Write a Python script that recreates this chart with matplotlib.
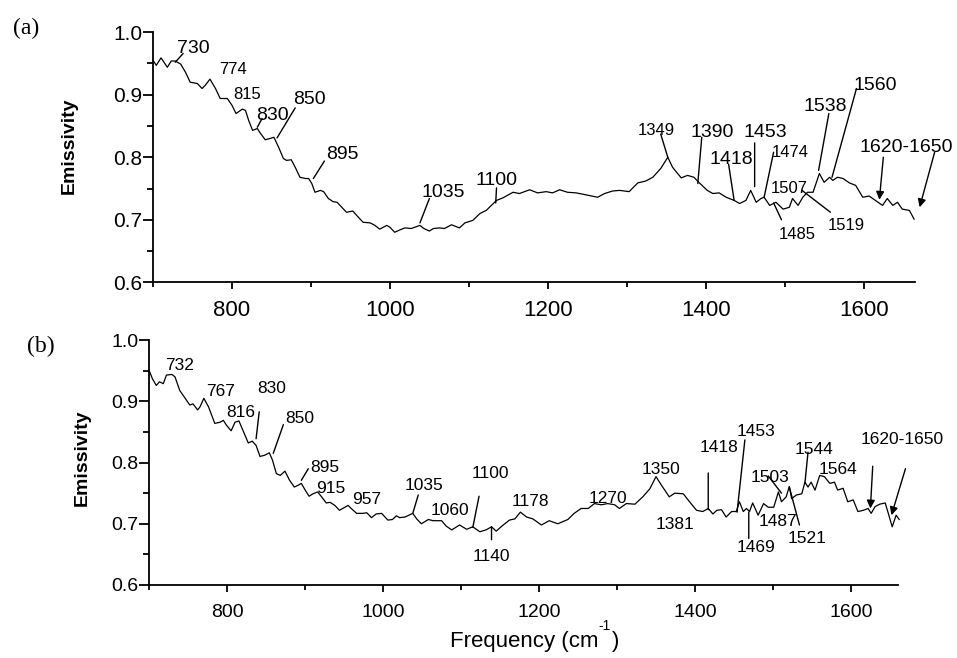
import matplotlib
matplotlib.use('Agg')
import matplotlib.pyplot as plt
from matplotlib.ticker import MultipleLocator, FormatStrFormatter

plt.rcParams['font.family'] = ['Liberation Sans', 'DejaVu Sans']

# spectrum (a)
freq_a = [700, 704, 710, 718, 723, 728, 735, 741, 747, 756, 762, 766, 772, 779, 785, 794,
          800, 805, 813, 817, 821, 826, 832, 835, 842, 848, 853, 859, 865, 869, 875, 880,
          886, 893, 897, 901, 905, 912, 916, 922, 928, 933, 939, 945, 953, 960, 966, 975,
          981, 987, 996, 1000, 1006, 1013, 1019, 1027, 1038, 1043, 1050, 1055, 1063, 1069,
          1078, 1088, 1095, 1105, 1114, 1122, 1131, 1135, 1143, 1156, 1164, 1177, 1187, 1198,
          1206, 1215, 1225, 1236, 1248, 1263, 1272, 1282, 1291, 1303, 1314, 1324, 1333, 1343,
          1352, 1358, 1369, 1377, 1385, 1392, 1402, 1409, 1417, 1426, 1436, 1443, 1451, 1457,
          1464, 1470, 1474, 1481, 1489, 1498, 1506, 1510, 1517, 1523, 1529, 1536, 1544, 1550,
          1557, 1561, 1567, 1574, 1582, 1590, 1599, 1607, 1615, 1624, 1630, 1637, 1643, 1649,
          1658, 1664]
emis_a = [.955, .947, .959, .944, .954, .954, .949, .936, .920, .918, .910, .915, .925, .910,
          .894, .894, .883, .870, .877, .875, .859, .843, .846, .840, .828, .830, .832, .816,
          .798, .795, .796, .784, .768, .766, .766, .758, .744, .747, .745, .734, .729, .728,
          .720, .712, .714, .704, .696, .695, .691, .685, .691, .688, .680, .684, .687, .686,
          .691, .686, .682, .686, .687, .686, .692, .687, .695, .699, .710, .715, .726, .731,
          .735, .744, .742, .748, .743, .745, .743, .748, .744, .743, .740, .736, .742, .746,
          .747, .745, .759, .762, .768, .782, .800, .784, .767, .771, .768, .759, .747, .742,
          .743, .736, .731, .726, .731, .747, .728, .734, .736, .723, .728, .717, .720, .734,
          .723, .736, .744, .744, .774, .760, .768, .763, .768, .766, .759, .755, .736, .738,
          .731, .723, .734, .723, .728, .717, .715, .701]

# spectrum (b)
freq_b = [700, 704, 709, 713, 718, 722, 729, 733, 739, 746, 752, 756, 762, 765, 770, 776,
          784, 791, 795, 799, 805, 810, 815, 821, 827, 832, 837, 842, 848, 854, 858, 863,
          868, 874, 880, 886, 891, 895, 900, 905, 910, 916, 921, 927, 932, 938, 944, 951,
          955, 959, 966, 974, 979, 985, 991, 998, 1006, 1012, 1017, 1021, 1028, 1038, 1043,
          1049, 1058, 1064, 1075, 1081, 1088, 1098, 1107, 1115, 1124, 1132, 1139, 1145, 1154,
          1162, 1169, 1176, 1184, 1192, 1203, 1213, 1224, 1237, 1245, 1254, 1263, 1271, 1280,
          1288, 1297, 1303, 1312, 1323, 1333, 1342, 1350, 1357, 1367, 1374, 1385, 1393, 1402,
          1410, 1417, 1423, 1428, 1434, 1440, 1447, 1453, 1457, 1462, 1466, 1470, 1474, 1481,
          1488, 1494, 1501, 1507, 1511, 1517, 1521, 1524, 1530, 1537, 1541, 1545, 1549, 1554,
          1560, 1566, 1573, 1579, 1583, 1590, 1596, 1603, 1609, 1616, 1622, 1626, 1631, 1637,
          1644, 1648, 1653, 1658, 1662]
emis_b = [.950, .937, .926, .932, .929, .943, .944, .940, .918, .905, .894, .896, .886, .891,
          .905, .891, .864, .866, .869, .861, .852, .866, .868, .850, .832, .835, .828, .810,
          .812, .816, .804, .782, .779, .786, .771, .760, .763, .766, .755, .745, .749, .752,
          .744, .734, .735, .730, .722, .727, .730, .725, .717, .717, .718, .710, .716, .717,
          .706, .707, .713, .710, .711, .717, .708, .700, .707, .705, .705, .696, .690, .698,
          .691, .695, .687, .690, .695, .688, .698, .706, .708, .719, .711, .708, .698, .705,
          .700, .707, .717, .725, .725, .733, .731, .733, .731, .725, .733, .732, .744, .757,
          .777, .763, .744, .750, .749, .736, .722, .720, .725, .716, .722, .723, .711, .720,
          .720, .736, .720, .725, .720, .734, .714, .733, .727, .727, .752, .736, .744, .761,
          .741, .747, .749, .768, .760, .768, .755, .779, .777, .766, .768, .755, .758, .736,
          .739, .720, .722, .725, .717, .728, .732, .734, .717, .695, .714, .707]

# peak labels: (text, text x, text y, font size)
labels_a = [('730', 730, .966, 14), ('774', 783, .933, 12), ('815', 801, .893, 12),
            ('830', 830, .859, 14), ('850', 877, .885, 14), ('895', 919, .798, 14),
            ('1035', 1040, .736, 14), ('1100', 1109, .756, 14), ('1349', 1314, .835, 12),
            ('1390', 1381, .832, 14), ('1418', 1405, .789, 14), ('1453', 1448, .833, 14),
            ('1474', 1484, .801, 12), ('1507', 1482, .743, 12), ('1485', 1492, .669, 12),
            ('1519', 1555, .683, 12), ('1538', 1524, .874, 14), ('1560', 1587, .907, 14),
            ('1620-1650', 1595, .808, 14)]
# leader lines: (point on curve, line end)
leaders_a = [((728, .952), (738, .966)), ((832, .848), (838, .862)),
             ((857, .831), (880, .879)), ((903, .766), (917, .794)),
             ((1038, .695), (1050, .734)), ((1134, .727), (1135, .751)),
             ((1352, .800), (1343, .837)), ((1390, .758), (1395, .832)),
             ((1436, .731), (1429, .789)), ((1462, .753), (1462, .823)),
             ((1474, .736), (1486, .808)), ((1486, .727), (1496, .700)),
             ((1522, .747), (1558, .712)), ((1543, .779), (1556, .870)),
             ((1560, .768), (1591, .910))]
arrows_a = [((1620, .732), (1625, .800)), ((1671, .720), (1690, .808))]

labels_b = [('732', 720, .952), ('767', 773, .908), ('816', 799, .874), ('830', 838, .914),
            ('850', 875, .865), ('895', 906, .785), ('915', 914, .750), ('957', 960, .733),
            ('1035', 1028, .755), ('1060', 1061, .715), ('1100', 1113, .775),
            ('1140', 1115, .639), ('1178', 1165, .729), ('1270', 1263, .734),
            ('1350', 1331, .782), ('1381', 1350, .692), ('1418', 1406, .817),
            ('1453', 1454, .843), ('1469', 1453, .654), ('1487', 1481, .696),
            ('1503', 1471, .768), ('1521', 1519, .669), ('1544', 1528, .814),
            ('1564', 1559, .781), ('1620-1650', 1613, .831)]
leaders_b = [((837, .839), (841, .883)), ((859, .815), (872, .862)),
             ((895, .771), (904, .790)), ((1038, .717), (1045, .747)),
             ((1115, .694), (1123, .745)), ((1139, .695), (1139, .674)),
             ((1417, .723), (1417, .783)), ((1454, .719), (1464, .837)),
             ((1469, .719), (1469, .676)), ((1511, .750), (1494, .778)),
             ((1521, .760), (1534, .698)), ((1541, .766), (1545, .817))]
arrows_b = [((1625, .725), (1628, .794)), ((1652, .714), (1670, .790))]

fig = plt.figure(figsize=(9.57, 6.58), dpi=100)
ax_a = fig.add_axes([0.160, 0.571, 0.796, 0.380])
ax_b = fig.add_axes([0.156, 0.111, 0.782, 0.372])


def style_axes(ax, xlim, xsize, ysize, xpad):
    ax.set_xlim(*xlim)
    ax.set_ylim(0.6, 1.0)
    for side in ['top', 'right']:
        ax.spines[side].set_visible(False)
    for side in ['left', 'bottom']:
        ax.spines[side].set_linewidth(1.3)
    ax.xaxis.set_major_locator(MultipleLocator(200))
    ax.xaxis.set_minor_locator(MultipleLocator(100))
    ax.yaxis.set_major_locator(MultipleLocator(0.1))
    ax.yaxis.set_minor_locator(MultipleLocator(0.05))
    ax.yaxis.set_major_formatter(FormatStrFormatter('%.1f'))
    ax.tick_params(axis='x', which='major', length=5, width=1.3, labelsize=xsize, pad=xpad)
    ax.tick_params(axis='x', which='minor', length=3.5, width=1.3)
    ax.tick_params(axis='y', which='major', length=7, width=1.3, labelsize=ysize, pad=1)
    ax.tick_params(axis='y', which='minor', length=4.5, width=1.3)


def draw_marks(ax, leaders, arrows):
    for xy, end in leaders:
        ax.annotate('', xy=xy, xytext=end, annotation_clip=False,
                    arrowprops=dict(arrowstyle='-', color='black', lw=1.0,
                                    shrinkA=0, shrinkB=0))
    for xy, end in arrows:
        ax.annotate('', xy=xy, xytext=end, annotation_clip=False,
                    arrowprops=dict(arrowstyle='-|>', color='black', lw=1.0,
                                    mutation_scale=12, shrinkA=0, shrinkB=0))


# panel (a)
ax_a.plot(freq_a, emis_a, color='black', lw=0.9, clip_on=False)
style_axes(ax_a, (700, 1665), 16, 15, 8)
for txt, x, y, size in labels_a:
    ax_a.text(x, y, txt, fontsize=size, ha='left', va='baseline')
draw_marks(ax_a, leaders_a, arrows_a)

# panel (b)
ax_b.plot(freq_b, emis_b, color='black', lw=0.9, clip_on=False)
style_axes(ax_b, (700, 1660), 14, 14, 9)
for txt, x, y in labels_b:
    ax_b.text(x, y, txt, fontsize=12.5, ha='left', va='baseline')
draw_marks(ax_b, leaders_b, arrows_b)

fig.text(0.072, 0.778, 'Emissivity', rotation=90, fontsize=14, fontweight='bold',
         ha='center', va='center')
fig.text(0.086, 0.305, 'Emissivity', rotation=90, fontsize=14, fontweight='bold',
         ha='center', va='center')
# x label with the raised "-1" tucked in before the closing bracket
fig.text(0.625, 0.017, 'Frequency (cm', fontsize=16, ha='right', va='baseline')
fig.text(0.625, 0.042, '-1', fontsize=10, ha='left', va='baseline')
fig.text(0.639, 0.017, ')', fontsize=16, ha='left', va='baseline')
fig.text(0.027, 0.956, '(a)', fontsize=17, family='Liberation Serif', ha='center', va='center')
fig.text(0.043, 0.473, '(b)', fontsize=17, family='Liberation Serif', ha='center', va='center')

fig.savefig('out.png', dpi=100)
